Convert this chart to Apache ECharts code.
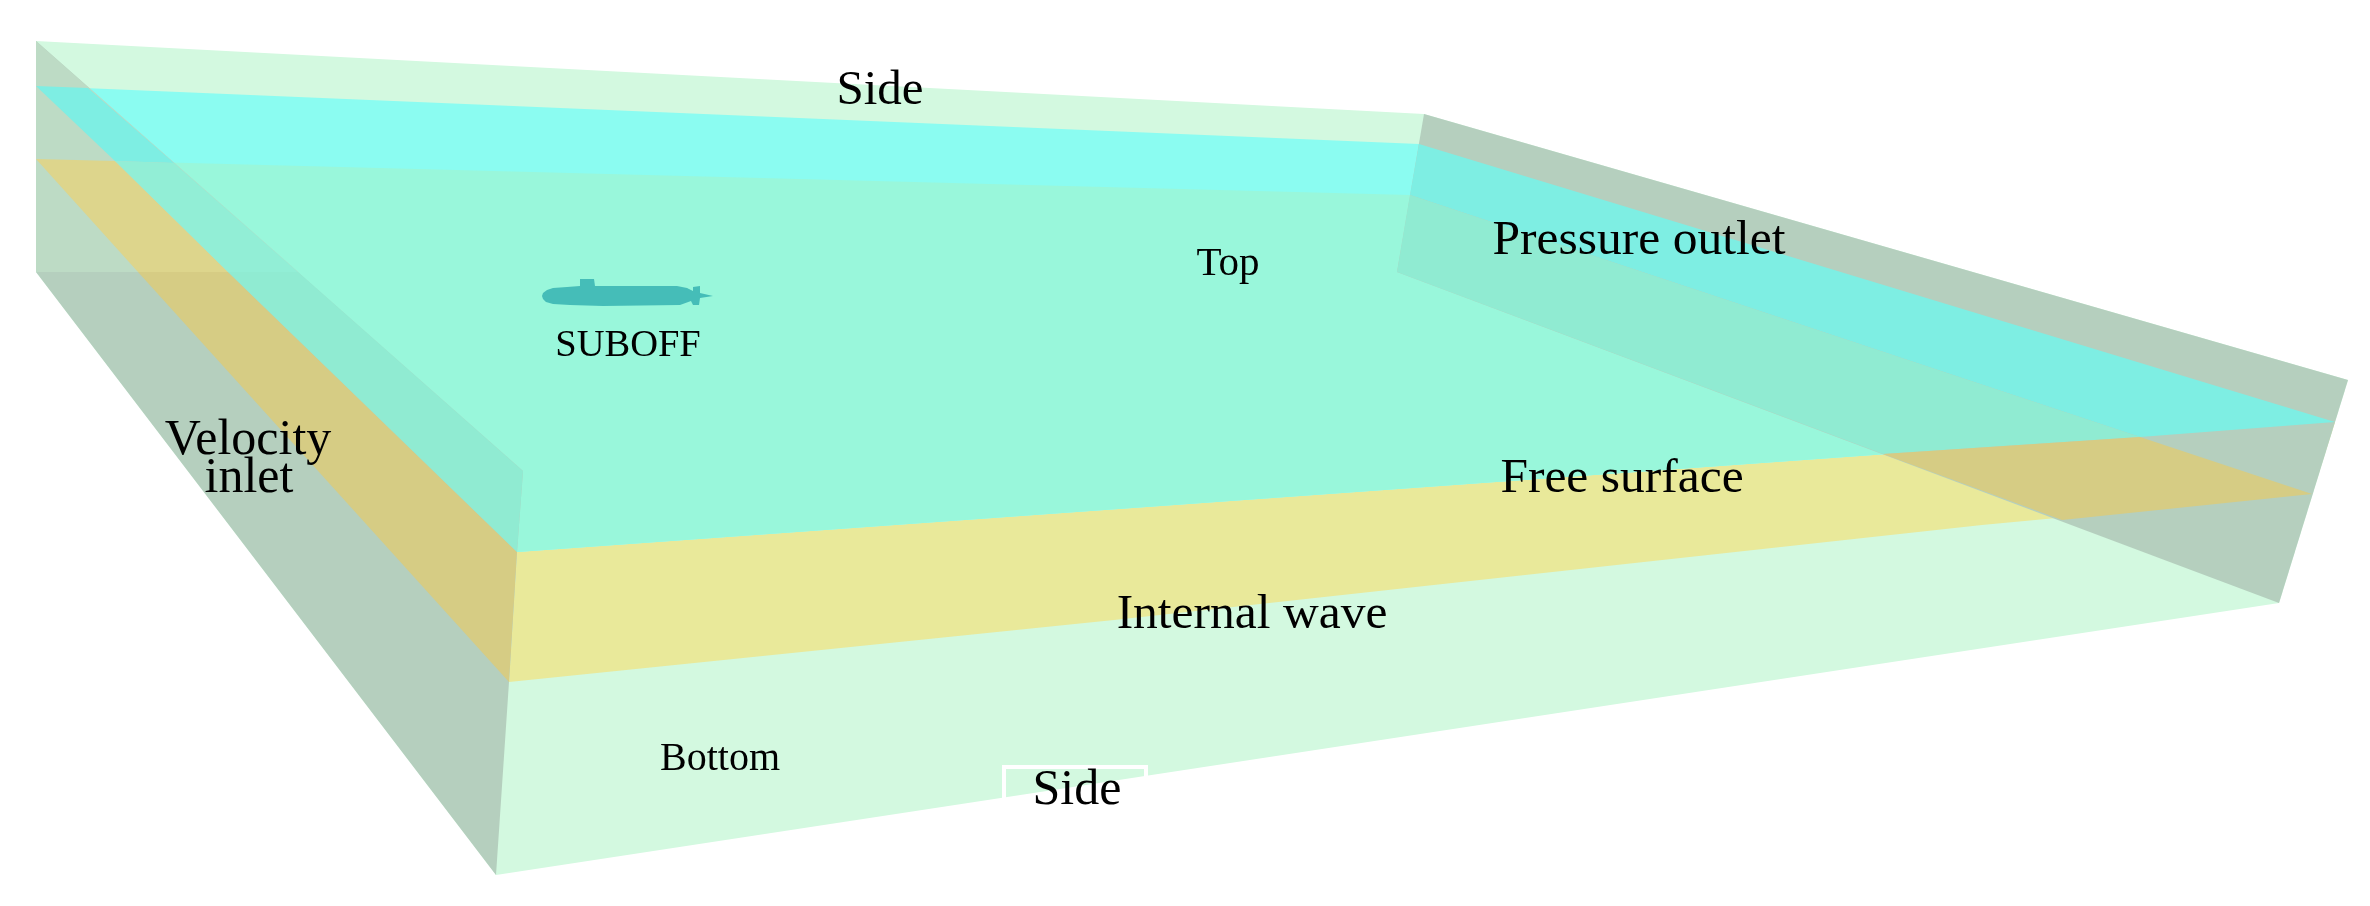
<!DOCTYPE html>
<html>
<head>
<meta charset="utf-8">
<style>
  html, body { margin: 0; padding: 0; background: #fff; }
  #main { width: 2370px; height: 906px; }
</style>
<script src="https://cdn.jsdelivr.net/npm/echarts@6/dist/echarts.min.js"></script>
</head>
<body>
<div id="main"></div>
<script>
// outline of the domain (x, y in picture units)
const outline = [[36,41],[1424,114],[2348,380],[2279,603],[496,875],[36,272]];
const waterBand = [[517,552],[2335,422],[2312,494],[1982,525],[1114,620],[509,682]];
const freeSurface = [[36,86],[1419,144],[2335,422],[517,552]];
const interfacePlane = [[36,159],[1410,195],[2335,422],[517,552]];

// velocity inlet, split along the lines that cross it
const inletFace = [[36,41],[36,272],[496,875],[509,682],[517,552],[523,471]];
const inletUpper = [[36,41],[298,272],[36,272]];
const inletBand = [[228,272],[517,552],[509,682],[138,272]];
const inletBandUpper = [[36,159],[115,161],[228,272],[138,272]];
const inletCyan = [[36,86],[88,88],[174,163],[115,161]];
const inletMint = [[228,272],[298,272],[523,471],[517,552]];
const inletMintUpper = [[115,161],[174,163],[298,272],[228,272]];

// pressure outlet
const outletFace = [[1424,114],[2348,380],[2279,603],[1397,272]];
const outletCyan = [[1419,144],[2335,422],[2140,437],[1410,195]];
const outletMint = [[1410,195],[2140,437],[1883,454],[1397,272]];
const outletBand = [[1883,454],[2140,437],[2312,494],[2062,520]];

const suboffHull = [
  [542,296],[543,293],[547,290],[553,288],[567,287],[580,286],[580,279],[594,279],[595,286],[677,286],
  [687,288],[693,291],[693,287],[700,286],[700,293],[713,296],[700,298],[699,305],
  [693,305],[691,301],[680,305],[603,306],[570,305],[553,304],[546,302],[543,299]
];
const sideMark = [[1004,798],[1004,767],[1146,767],[1146,778]];

const labelTexts = ['Side', 'Pressure outlet', 'Top', 'SUBOFF', 'Velocity', 'inlet', 'Free surface', 'Internal wave', 'Bottom', 'Side'];
const labelX = [880, 1639, 1228, 628, 248, 249, 1622, 1252, 720, 1077];
const labelY = [91, 241, 264, 346, 441, 479, 479, 615, 759, 791];
const labelSize = [49, 49.5, 41, 38.5, 50, 50, 49.5, 49.5, 40, 50];

const pale = '#d3f9e0', yellow = '#e9e99a', cyan = '#8bfcf1', mint = '#99f7db';
const gray = '#b5cfbe', grayLight = '#bddbc5', grayYellow = '#d6cc84', grayYellowLight = '#ddd58c';
const grayCyan = '#7eeee3', grayMint = '#90ebd2', grayMintLight = '#92eed6';

// painted back to front, later faces cover earlier ones
const faces = [
  [outline, pale], [waterBand, yellow], [freeSurface, cyan], [interfacePlane, mint],
  [inletFace, gray], [inletUpper, grayLight], [inletBand, grayYellow], [inletBandUpper, grayYellowLight],
  [inletCyan, grayCyan], [inletMint, grayMint], [inletMintUpper, grayMintLight],
  [outletFace, gray], [outletCyan, grayCyan], [outletMint, grayMint], [outletBand, grayYellow],
  [suboffHull, '#45bdb8']
];

const chart = echarts.init(document.getElementById('main'));

chart.setOption({
  animation: false,
  backgroundColor: '#fff',
  grid: { left: 0, right: 0, top: 0, bottom: 0 },
  xAxis: { type: 'value', min: 0, max: 2370, show: false },
  yAxis: { type: 'value', min: 0, max: 906, inverse: true, show: false },
  series: [
    {
      type: 'custom',
      coordinateSystem: 'cartesian2d',
      clip: false,
      silent: true,
      data: faces.map((f, i) => [i]),
      renderItem(params, api) {
        const face = faces[api.value(0)];
        return {
          type: 'polygon',
          shape: { points: face[0].map((p) => api.coord(p)) },
          style: { fill: face[1] }
        };
      }
    },
    {
      type: 'custom',
      coordinateSystem: 'cartesian2d',
      clip: false,
      silent: true,
      data: [0],
      renderItem(params, api) {
        return {
          type: 'polyline',
          shape: { points: sideMark.map((p) => api.coord(p)) },
          style: { stroke: '#fff', lineWidth: 4, fill: null }
        };
      }
    },
    {
      type: 'custom',
      coordinateSystem: 'cartesian2d',
      clip: false,
      silent: true,
      z: 5,
      data: labelTexts.map((t, i) => [labelX[i], labelY[i], labelSize[i], t]),
      encode: { x: 0, y: 1 },
      renderItem(params, api) {
        const pos = api.coord([api.value(0), api.value(1)]);
        return {
          type: 'text',
          x: pos[0],
          y: pos[1],
          style: {
            text: labelTexts[params.dataIndex],
            fill: '#000',
            font: api.value(2) + 'px "Liberation Serif"',
            align: 'center',
            verticalAlign: 'middle'
          }
        };
      }
    }
  ]
});
</script>
</body>
</html>
